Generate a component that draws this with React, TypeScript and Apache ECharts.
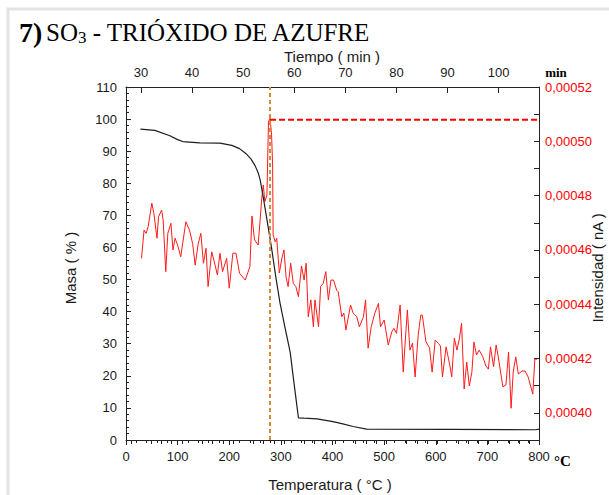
import React, { useEffect, useRef } from "react";
import * as echarts from "echarts";

// Thermogravimetric curve (Masa %) vs temperature (°C)
const tgTemperature = [28, 56, 85, 100, 110, 143, 182, 205, 220, 232, 242, 250, 256, 260, 266, 272.5, 282, 290, 298, 308, 318, 326, 334, 345, 370, 401, 420, 440, 466, 628, 794, 800];
const tgMass = [96.9, 96.5, 94.8, 93.6, 93.0, 92.6, 92.5, 91.8, 90.8, 89.3, 87.6, 85.5, 83.3, 81.0, 75.5, 69.2, 59.8, 51.0, 43.0, 35.0, 27.4, 17.0, 6.9, 6.8, 6.6, 5.7, 5.0, 4.2, 3.4, 3.3, 3.2, 3.4];

// Mass-spec signal (Intensidad nA) vs temperature (°C)
const msTemperature = [
  30, 35, 39, 43, 50, 54, 60, 63, 69, 72,
  77, 81, 87, 91, 95, 100, 106, 116, 123, 129,
  134, 140, 145, 150, 155, 159, 166, 171, 177, 182,
  187, 195, 200, 207, 213, 220, 231, 240, 244, 249,
  256, 263, 266, 269, 273, 276, 279, 282, 284, 285,
  289, 292, 297, 302, 306, 310, 314, 319, 324, 329,
  334, 340, 345, 349, 353, 358, 363, 366, 373, 377,
  382, 387, 392, 397, 402, 408, 411, 418, 422, 426,
  435, 440, 447, 452, 460, 464, 469, 475, 482, 489,
  493, 500, 508, 515, 519, 524, 531, 537, 545, 550,
  555, 560, 566, 571, 574, 581, 588, 593, 599, 605,
  609, 613, 620, 626, 631, 636, 641, 646, 650, 655,
  660, 665, 670, 674, 679, 684, 691, 697, 702, 706,
  712, 717, 721, 730, 736, 741, 746, 750, 755, 760,
  767, 773, 779, 788, 792, 796,
];
const msIntensity = [
  0.0004569, 0.0004673, 0.0004661, 0.0004686, 0.0004772, 0.0004735, 0.0004643, 0.0004722, 0.0004747, 0.000471,
  0.000452, 0.0004661, 0.0004698, 0.00046, 0.0004643, 0.0004618, 0.0004575, 0.0004704, 0.0004673, 0.0004624,
  0.0004544, 0.0004624, 0.0004661, 0.0004551, 0.0004606, 0.0004465, 0.0004593, 0.0004557, 0.0004508, 0.0004588,
  0.000452, 0.0004569, 0.0004459, 0.0004588, 0.0004588, 0.0004514, 0.0004489, 0.0004538, 0.0004725, 0.0004637,
  0.0004618, 0.000479, 0.0004839, 0.0004778, 0.0004802, 0.0005072, 0.0005085, 0.0005023, 0.0004913, 0.0004655,
  0.000463, 0.0004643, 0.0004515, 0.000457, 0.00046, 0.0004501, 0.0004465, 0.0004551, 0.0004477, 0.0004465,
  0.0004428, 0.0004541, 0.0004489, 0.0004551, 0.0004354, 0.0004416, 0.0004317, 0.0004416, 0.0004317, 0.0004465,
  0.0004477, 0.000452, 0.0004416, 0.0004489, 0.0004489, 0.0004452, 0.0004446, 0.0004354, 0.0004367, 0.0004305,
  0.0004397, 0.0004367, 0.0004354, 0.0004317, 0.0004354, 0.0004416, 0.0004238, 0.0004317, 0.0004367, 0.0004403,
  0.0004317, 0.0004342, 0.000425, 0.0004299, 0.0004311, 0.0004293, 0.0004397, 0.000415, 0.0004379, 0.0004231,
  0.0004257, 0.0004132, 0.0004287, 0.000436, 0.000436, 0.0004262, 0.0004239, 0.000415, 0.0004268, 0.0004256,
  0.0004246, 0.0004132, 0.0004243, 0.0004187, 0.0004133, 0.0004275, 0.0004231, 0.0004275, 0.000433, 0.0004088,
  0.0004187, 0.0004099, 0.000415, 0.0004261, 0.0004213, 0.0004231, 0.0004207, 0.0004173, 0.0004161, 0.0004243,
  0.000417, 0.000425, 0.0004207, 0.0004096, 0.0004103, 0.0004224, 0.0004017, 0.000415, 0.0004206, 0.0004143,
  0.0004154, 0.0004154, 0.0004132, 0.0004069, 0.0004198, 0.0004197,
];

const peakTemperature = 279;
const peakIntensity = 0.0005079;

const temperatureRange = [0, 800];
const massRange = [0, 110];
const intensityRange = [0.00039, 0.00052];
const timeRange = [27.06, 107.9];

const timeLabels = [30, 40, 50, 60, 70, 80, 90, 100];
const timeMinorTicks = [28, 32, 34, 36, 38, 42, 44, 46, 48, 52, 54, 56, 58, 62, 64, 66, 68, 72, 74, 76, 78, 82, 84, 86, 88, 92, 94, 96, 98, 102, 104, 106];
const intensityLabels = [0.0004, 0.00042, 0.00044, 0.00046, 0.00048, 0.0005, 0.00052];
const intensityTicks = [0.00039, 0.0004, 0.00041, 0.00042, 0.00043, 0.00044, 0.00045, 0.00046, 0.00047, 0.00048, 0.00049, 0.0005, 0.00051, 0.00052];

const SANS = "Liberation Sans, Arial, sans-serif";
const SERIF = "Liberation Serif, Times New Roman, serif";
const AXIS_COLOR = "#222";

export default function App() {
  const ref = useRef<HTMLDivElement>(null);

  useEffect(() => {
    document.body.style.margin = "0";
    if (!ref.current) return;
    const chart = echarts.init(ref.current, undefined, { renderer: "svg" });

    const commonLine = { show: true, lineStyle: { color: AXIS_COLOR, width: 1 } };

    const option: any = {
      animation: false,
      backgroundColor: "#fff",
      grid: { left: 126, top: 87, width: 413, height: 353, containLabel: false },
      xAxis: [
        {
          type: "value",
          position: "bottom",
          min: temperatureRange[0],
          max: temperatureRange[1],
          interval: 100,
          axisLine: { ...commonLine, onZero: false },
          axisTick: { show: true, inside: false, length: 5, lineStyle: { color: AXIS_COLOR } },
          minorTick: { show: true, splitNumber: 5, length: 3, lineStyle: { color: AXIS_COLOR } },
          splitLine: { show: false },
          axisLabel: { color: "#1a1a1a", fontSize: 13, fontFamily: SANS, margin: 10 },
        },
        {
          type: "value",
          position: "top",
          min: timeRange[0],
          max: timeRange[1],
          axisLine: { ...commonLine, onZero: false },
          axisTick: { show: true, inside: true, length: 6, customValues: timeLabels, lineStyle: { color: AXIS_COLOR } },
          splitLine: { show: false },
          axisLabel: { color: "#1a1a1a", fontSize: 13, fontFamily: SANS, margin: 8, customValues: timeLabels },
        },
        {
          type: "value",
          position: "top",
          min: timeRange[0],
          max: timeRange[1],
          axisLine: { show: false },
          axisTick: { show: true, inside: true, length: 4, customValues: timeMinorTicks, lineStyle: { color: AXIS_COLOR } },
          splitLine: { show: false },
          axisLabel: { show: false },
        },
      ],
      yAxis: [
        {
          type: "value",
          position: "left",
          min: massRange[0],
          max: massRange[1],
          interval: 10,
          axisLine: { ...commonLine, onZero: false },
          axisTick: { show: true, inside: true, length: 5, lineStyle: { color: AXIS_COLOR } },
          minorTick: { show: true, splitNumber: 5, length: 3, lineStyle: { color: AXIS_COLOR } },
          splitLine: { show: false },
          axisLabel: { color: "#1a1a1a", fontSize: 13, fontFamily: SANS, margin: 9 },
        },
        {
          type: "value",
          position: "right",
          min: intensityRange[0],
          max: intensityRange[1],
          axisLine: { ...commonLine, onZero: false },
          axisTick: { show: true, inside: true, length: 5, customValues: intensityTicks, lineStyle: { color: AXIS_COLOR } },
          splitLine: { show: false },
          axisLabel: {
            color: "#ff0000",
            fontSize: 13,
            fontFamily: SANS,
            margin: 6,
            customValues: intensityLabels,
            formatter: (v: number) => v.toFixed(5).replace(".", ","),
          },
        },
      ],
      series: [
        {
          name: "Intensidad",
          type: "line",
          xAxisIndex: 0,
          yAxisIndex: 1,
          data: msTemperature.map((t, i) => [t, msIntensity[i]]),
          showSymbol: false,
          symbol: "none",
          lineStyle: { color: "#ff1a1a", width: 1 },
          z: 2,
        },
        {
          name: "Masa",
          type: "line",
          xAxisIndex: 0,
          yAxisIndex: 0,
          data: tgTemperature.map((t, i) => [t, tgMass[i]]),
          showSymbol: false,
          symbol: "none",
          smooth: false,
          lineStyle: { color: "#1e1e1e", width: 1.2 },
          z: 3,
          markLine: {
            silent: true,
            symbol: ["none", "none"],
            label: { show: false },
            lineStyle: { color: "#d9883a", width: 2, type: [4, 3] },
            data: [{ xAxis: peakTemperature }],
          },
        },
        {
          name: "Pico",
          type: "line",
          xAxisIndex: 0,
          yAxisIndex: 1,
          data: [
            [peakTemperature, peakIntensity],
            [temperatureRange[1], peakIntensity],
          ],
          showSymbol: false,
          symbol: "none",
          lineStyle: { color: "#ff0000", width: 2, type: [6, 3] },
          z: 4,
        },
      ],
      graphic: [
        {
          type: "rect",
          shape: { x: 8, y: 9, width: 640, height: 520 },
          style: { fill: "none", stroke: "#e4e4e4", lineWidth: 3 },
          silent: true,
        },
        {
          type: "text",
          x: 19,
          y: 32,
          style: { text: "7)", font: `bold 28px ${SERIF}`, fill: "#000", verticalAlign: "middle" },
        },
        {
          type: "text",
          x: 46,
          y: 18,
          style: {
            text: "{a|SO}{b|3}{a| - TRIÓXIDO DE AZUFRE}",
            verticalAlign: "top",
            rich: {
              a: { fontFamily: SERIF, fontSize: 25, lineHeight: 28, color: "#000" },
              b: { fontFamily: SERIF, fontSize: 17, lineHeight: 20, verticalAlign: "bottom", color: "#000" },
            },
          },
        },
        {
          type: "text",
          x: 332,
          y: 56,
          style: { text: "Tiempo ( min )", font: `15px ${SANS}`, fill: "#1a1a1a", align: "center", verticalAlign: "middle" },
        },
        {
          type: "text",
          x: 556,
          y: 72,
          style: { text: "min", font: `bold 13px ${SERIF}`, fill: "#000", align: "center", verticalAlign: "middle" },
        },
        {
          type: "text",
          x: 330,
          y: 484,
          style: { text: "Temperatura ( °C )", font: `15px ${SANS}`, fill: "#1a1a1a", align: "center", verticalAlign: "middle" },
        },
        {
          type: "text",
          x: 554,
          y: 461,
          style: { text: "°C", font: `bold 15px ${SERIF}`, fill: "#000", verticalAlign: "middle" },
        },
        {
          type: "text",
          x: 70,
          y: 268,
          rotation: Math.PI / 2,
          style: { text: "Masa ( % )", font: `15px ${SANS}`, fill: "#1a1a1a", align: "center", verticalAlign: "middle" },
        },
        {
          type: "text",
          x: 597,
          y: 268,
          rotation: Math.PI / 2,
          style: { text: "Intensidad ( nA )", font: `15px ${SANS}`, fill: "#1a1a1a", align: "center", verticalAlign: "middle" },
        },
      ],
    };

    chart.setOption(option);
    return () => chart.dispose();
  }, []);

  return <div ref={ref} style={{ width: 609, height: 495 }} />;
}
